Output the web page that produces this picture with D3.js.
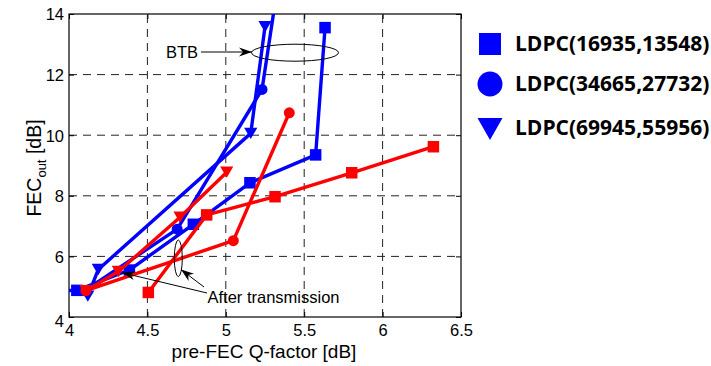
<!DOCTYPE html>
<html>
<head>
<meta charset="utf-8">
<script src="https://cdn.jsdelivr.net/npm/d3@7/dist/d3.min.js"></script>
<style>
  html, body { margin: 0; padding: 0; background: #fff; }
  svg { display: block; }
</style>
</head>
<body>
<div id="chart"></div>
<script>
// ---------- data ----------
const xTicks = [4, 4.5, 5, 5.5, 6, 6.5];
const yTicks = [4, 6, 8, 10, 12, 14];
const xTickLabels = ["4", "4.5", "5", "5.5", "6", "6.5"];
const yTickLabels = ["4", "6", "8", "10", "12", "14"];

// BTB (blue)
const sqBTB_x   = [3.90, 4.05, 4.385, 4.793, 5.154, 5.573, 5.633];
const sqBTB_y   = [4.87, 4.88, 5.55, 7.06, 8.43, 9.35, 13.55];
const circBTB_x = [4.10, 4.69, 5.231, 5.333];
const circBTB_y = [4.87, 6.90, 11.51, 15.0];
const triBTB_x  = [4.12, 4.187, 5.159, 5.25];
const triBTB_y  = [4.69, 5.57, 10.06, 13.58];

// After transmission (red)
const sqAT_x   = [4.506, 4.878, 5.314, 5.803, 6.324];
const sqAT_y   = [4.81, 7.37, 7.97, 8.76, 9.62];
const circAT_x = [4.108, 5.048, 5.405];
const circAT_y = [4.87, 6.52, 10.74];
const triAT_x  = [4.108, 4.315, 4.708, 5.006];
const triAT_y  = [4.87, 5.50, 7.29, 8.78];

const legendLabels = ["LDPC(16935,13548)", "LDPC(34665,27732)", "LDPC(69945,55956)"];
const legendShapes = ["square", "circle", "triangle"];

// ---------- layout ----------
const W = 711, H = 366;
const x = d3.scaleLinear().domain([4, 6.5]).range([69, 461]);
const y = d3.scaleLinear().domain([4, 14]).range([317, 14]);
const BLUE = "#0000ff", RED = "#ff0000";
const FONT = "'Liberation Sans', Arial, Helvetica, sans-serif";

const svg = d3.select("#chart").append("svg").attr("width", W).attr("height", H);

svg.append("defs").append("clipPath").attr("id", "plotclip")
  .append("rect").attr("x", 69).attr("y", 14).attr("width", 392).attr("height", 303);

// grid
const grid = svg.append("g");
xTicks.slice(1, -1).forEach(t => {
  grid.append("line").attr("x1", x(t)).attr("x2", x(t)).attr("y1", y(4)).attr("y2", y(14))
    .attr("stroke", "#222").attr("stroke-width", 1).attr("stroke-dasharray", "8,6");
});
yTicks.slice(1, -1).forEach(t => {
  grid.append("line").attr("x1", x(4)).attr("x2", x(6.5)).attr("y1", y(t)).attr("y2", y(t))
    .attr("stroke", "#222").attr("stroke-width", 1).attr("stroke-dasharray", "8,6");
});

// axes (d3 axes with inward ticks, MATLAB style)
const axB = svg.append("g").attr("transform", `translate(0,${y(4)})`)
  .call(d3.axisBottom(x).tickValues(xTicks).tickSize(-5).tickFormat((d, i) => xTickLabels[i]));
const axT = svg.append("g").attr("transform", `translate(0,${y(14)})`)
  .call(d3.axisTop(x).tickValues(xTicks).tickSize(-5).tickFormat(""));
const axL = svg.append("g").attr("transform", `translate(${x(4)},0)`)
  .call(d3.axisLeft(y).tickValues(yTicks).tickSize(-5).tickFormat((d, i) => yTickLabels[i]));
const axR = svg.append("g").attr("transform", `translate(${x(6.5)},0)`)
  .call(d3.axisRight(y).tickValues(yTicks).tickSize(-5).tickFormat(""));
[axB, axT, axL, axR].forEach(g => {
  g.select(".domain").remove();
  g.selectAll("line").attr("stroke", "#000");
  g.selectAll("text").attr("font-family", FONT).attr("font-size", 16.5).attr("fill", "#000");
});
axB.selectAll("text").attr("dy", null).attr("y", 19).attr("dominant-baseline", "auto");
axL.selectAll("text").attr("x", -5).attr("dy", "0.36em");
axL.selectAll(".tick").filter(d => d === 4).select("text").attr("dy", "0.55em");

// frame
svg.append("rect").attr("x", x(4)).attr("y", y(14)).attr("width", x(6.5) - x(4)).attr("height", y(4) - y(14))
  .attr("fill", "none").attr("stroke", "#000").attr("stroke-width", 1.2);

// ---------- series ----------
const plot = svg.append("g").attr("clip-path", "url(#plotclip)");
const line = d3.line().x(d => x(d[0])).y(d => y(d[1]));

function marker(g, shape, cx, cy, color, s) {
  if (shape === "square") {
    g.append("rect").attr("x", cx - s / 2).attr("y", cy - s / 2).attr("width", s).attr("height", s).attr("fill", color);
  } else if (shape === "circle") {
    g.append("circle").attr("cx", cx).attr("cy", cy).attr("r", s / 2).attr("fill", color);
  } else {
    const w = s * 1.1, h = s * 0.95;
    g.append("path").attr("d", `M${cx - w / 2},${cy - h / 2}L${cx + w / 2},${cy - h / 2}L${cx},${cy + h / 2}Z`).attr("fill", color);
  }
}

function series(xs, ys, color, shape, size) {
  const pts = xs.map((v, i) => [v, ys[i]]);
  const g = plot.append("g");
  g.append("path").attr("d", line(pts)).attr("fill", "none").attr("stroke", color)
    .attr("stroke-width", 3.4).attr("stroke-linejoin", "round");
  pts.forEach(p => marker(g, shape, x(p[0]), y(p[1]), color, size));
}

series(sqBTB_x, sqBTB_y, BLUE, "square", 11.5);
series(triBTB_x, triBTB_y, BLUE, "triangle", 12);
series(circBTB_x, circBTB_y, BLUE, "circle", 11);
series(sqAT_x, sqAT_y, RED, "square", 11.5);
series(triAT_x, triAT_y, RED, "triangle", 12);
series(circAT_x, circAT_y, RED, "circle", 11);

// ---------- annotations ----------
const ann = svg.append("g");
function arrow(x1, y1, x2, y2) {
  ann.append("line").attr("x1", x1).attr("y1", y1).attr("x2", x2).attr("y2", y2)
    .attr("stroke", "#000").attr("stroke-width", 1);
  const a = Math.atan2(y2 - y1, x2 - x1);
  const L = 13, Wd = 4.5, N = 9;
  const bx = x2 - L * Math.cos(a), by = y2 - L * Math.sin(a);
  const nx = x2 - N * Math.cos(a), ny = y2 - N * Math.sin(a);
  const px = -Math.sin(a) * Wd, py = Math.cos(a) * Wd;
  ann.append("path")
    .attr("d", `M${x2},${y2}L${bx + px},${by + py}L${nx},${ny}L${bx - px},${by - py}Z`)
    .attr("fill", "#000");
}
ann.append("text").attr("x", 166).attr("y", 57.5).text("BTB")
  .attr("font-family", FONT).attr("font-size", 16.5);
arrow(201, 52, 252, 52);
ann.append("ellipse").attr("cx", 295).attr("cy", 52.7).attr("rx", 43.5).attr("ry", 8.5)
  .attr("fill", "none").attr("stroke", "#000").attr("stroke-width", 1);

ann.append("ellipse").attr("cx", 178.3).attr("cy", 258.3).attr("rx", 4).attr("ry", 18.3)
  .attr("fill", "none").attr("stroke", "#000").attr("stroke-width", 1);
arrow(207, 293, 122, 272.7);
arrow(204, 287, 181, 269.5);
ann.append("text").attr("x", 207.5).attr("y", 303).text("After transmission")
  .attr("font-family", FONT).attr("font-size", 16.5);

// axis labels
svg.append("text").attr("x", 264).attr("y", 358).attr("text-anchor", "middle")
  .attr("font-family", FONT).attr("font-size", 19).text("pre-FEC Q-factor [dB]");
const yl = svg.append("text").attr("transform", "translate(41,168) rotate(-90)")
  .attr("text-anchor", "middle").attr("font-family", FONT).attr("font-size", 19.5);
yl.append("tspan").text("FEC");
yl.append("tspan").attr("font-size", 13).attr("dy", 5).text("out");
yl.append("tspan").attr("dy", -5).text(" [dB]");

// ---------- legend ----------
const leg = svg.append("g");
const legY = [44, 84, 128];
legendLabels.forEach((lab, i) => {
  const cy = legY[i];
  if (legendShapes[i] === "square") {
    leg.append("rect").attr("x", 479).attr("y", cy - 11).attr("width", 22).attr("height", 22).attr("fill", BLUE);
  } else if (legendShapes[i] === "circle") {
    leg.append("circle").attr("cx", 490).attr("cy", cy).attr("r", 12.5).attr("fill", BLUE);
  } else {
    leg.append("path").attr("d", `M477.5,${cy - 10}L502.5,${cy - 10}L490,${cy + 12}Z`).attr("fill", BLUE);
  }
  leg.append("text").attr("x", 515).attr("y", cy).attr("dy", "0.35em")
    .attr("font-family", "'Open Sans', 'Liberation Sans', sans-serif").attr("font-weight", "bold")
    .attr("font-size", 21).text(lab);
});
</script>
</body>
</html>
